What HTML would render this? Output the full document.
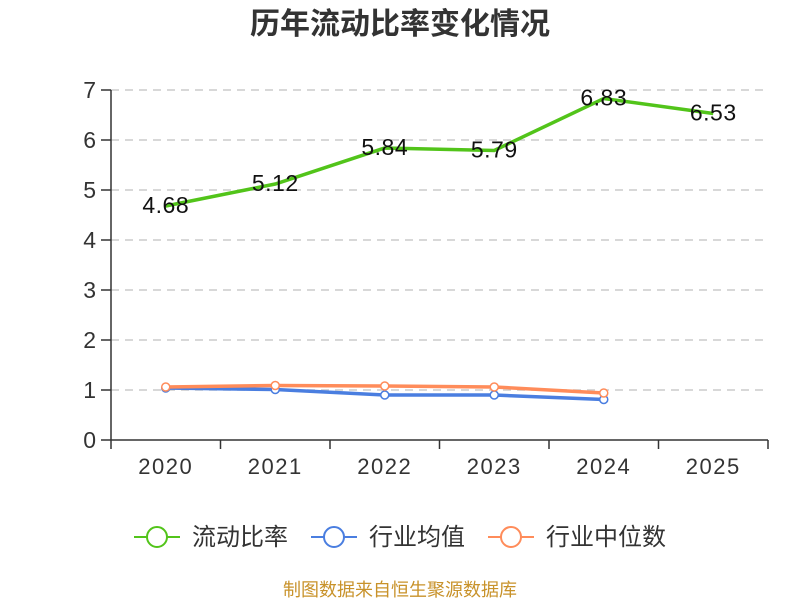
<!DOCTYPE html>
<html><head><meta charset="utf-8"><style>
body{margin:0;background:#fff;}
svg{font-family:"Liberation Sans","Noto Sans CJK SC",sans-serif;}
</style></head><body>
<svg id="c" width="800" height="600" xmlns="http://www.w3.org/2000/svg">
<text x="400" y="34" text-anchor="middle" font-size="30" font-weight="bold" fill="#333">历年流动比率变化情况</text>
<g id="grid"></g><g id="axes"></g><g id="series"></g>
<g>
<g><line x1="134" x2="180" y1="537" y2="537" stroke="#52c41a" stroke-width="2"/><circle cx="157" cy="537" r="10" fill="#fff" stroke="#52c41a" stroke-width="2"/><text x="192" y="545" font-size="24" fill="#333">流动比率</text></g>
<g><line x1="311" x2="357" y1="537" y2="537" stroke="#4a7ee0" stroke-width="2"/><circle cx="334" cy="537" r="10" fill="#fff" stroke="#4a7ee0" stroke-width="2"/><text x="369" y="545" font-size="24" fill="#333">行业均值</text></g>
<g><line x1="488" x2="534" y1="537" y2="537" stroke="#ff8c5a" stroke-width="2"/><circle cx="511" cy="537" r="10" fill="#fff" stroke="#ff8c5a" stroke-width="2"/><text x="546" y="545" font-size="24" fill="#333">行业中位数</text></g>
</g>
<text x="400" y="596" text-anchor="middle" font-size="18" fill="#c8922a">制图数据来自恒生聚源数据库</text>
</svg>
<script>
const categories=["2020","2021","2022","2023","2024","2025"];
const ratioValues=[4.68,5.12,5.84,5.79,6.83,6.53];
const avgValues=[1.04,1.01,0.90,0.90,0.81];
const medianValues=[1.06,1.09,1.08,1.06,0.94];
const yTicks=[0,1,2,3,4,5,6,7];
const NS="http://www.w3.org/2000/svg";
const L=111,R=768,T=90,B=440,yMax=7;
const bw=(R-L)/categories.length;
const xs=i=>L+bw*(i+0.5);
const ys=v=>B-(v/yMax)*(B-T);
function mk(tag,attrs,parent){const e=document.createElementNS(NS,tag);for(const k in attrs)e.setAttribute(k,attrs[k]);parent.appendChild(e);return e;}
const grid=document.getElementById('grid'),axes=document.getElementById('axes'),ser=document.getElementById('series');
yTicks.forEach(t=>{
 if(t>0){const g=mk('line',{x1:L,x2:R,y1:ys(t),y2:ys(t),stroke:'#ccc','stroke-dasharray':'8,6','stroke-width':1.5},grid);
 
 }
 const tk=mk('line',{x1:L-10,x2:L,y1:ys(t),y2:ys(t),stroke:'#333','stroke-width':1.5},axes);
 
 
 const tx=mk('text',{x:L-15,y:ys(t)+8,'text-anchor':'end','font-size':23,fill:'#333'},axes);tx.textContent=t;
 
 
});
const ya=mk('line',{x1:L,x2:L,y1:T,y2:B,stroke:'#333','stroke-width':1.5},axes);


const xa=mk('line',{x1:L,x2:R,y1:B,y2:B,stroke:'#333','stroke-width':1.5},axes);


for(let i=0;i<=categories.length;i++){const tk=mk('line',{x1:L+bw*i,x2:L+bw*i,y1:B,y2:B+9,stroke:'#333','stroke-width':1.5},axes);
 
 }
categories.forEach((c,i)=>{const tx=mk('text',{x:xs(i),y:B+34,'text-anchor':'middle','font-size':22,'letter-spacing':'1.5',fill:'#333'},axes);tx.textContent=c;
 
 });
function line(vals,color,name,markers,labels){
 const g=mk('g',{},ser);
 
 
 const p=mk('polyline',{points:vals.map((v,i)=>xs(i)+','+ys(v)).join(' '),fill:'none',stroke:color,'stroke-width':3.5},g);
 
 
 vals.forEach((v,i)=>{
  if(markers){const c=mk('circle',{cx:xs(i),cy:ys(v),r:4,fill:'#fff',stroke:color,'stroke-width':1.5},g);
   
   }
  if(labels){const t=mk('text',{x:xs(i),y:ys(v)+7,'text-anchor':'middle','font-size':23,'letter-spacing':'0.5',fill:'#111'},g);t.textContent=v.toFixed(2);
   
   }
 });
}
line(avgValues,'#4a7ee0','industry-average-series',true,false);
line(medianValues,'#ff8c5a','industry-median-series',true,false);
line(ratioValues,'#52c41a','current-ratio-series',false,true);
</script>
</body></html>
